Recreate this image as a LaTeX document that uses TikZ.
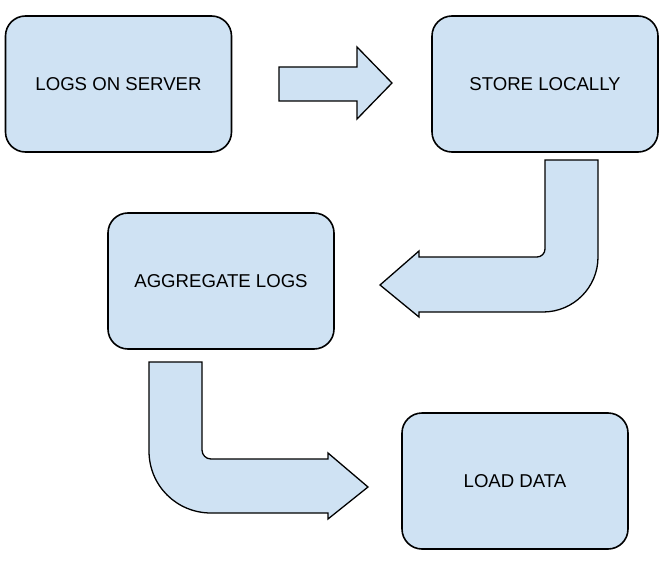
\documentclass[tikz,border=0pt]{standalone}
\usepackage{fontspec}
\setmainfont{Liberation Sans}
\definecolor{boxblue}{HTML}{CFE2F3}
\tikzset{
  box/.style={draw, fill=boxblue, line width=1.6pt, rounded corners=20pt,
    minimum width=226pt, minimum height=136pt, inner sep=0pt,
    font=\fontsize{18.6}{21}\selectfont},
  bigarrow/.style={draw, fill=boxblue, line width=1.3pt, line join=miter}
}
\begin{document}
\begin{tikzpicture}[x=1pt,y=-1pt]
    \useasboundingbox (0,0) rectangle (666,564);
    \node [box] (server) at (118.5,84) {LOGS ON SERVER};
    \node [box] (store) at (545,84) {STORE LOCALLY};
    \node [box] (aggregate) at (221,281) {AGGREGATE LOGS};
    \node [box] (load) at (515,481) {LOAD DATA};
    % server -> store
    \path [bigarrow] (279,67) -- (357,67) -- (357,47) -- (392,83) -- (357,119)
        -- (357,101) -- (279,101) -- cycle;
    % store -> aggregate
    \path [bigarrow] (545,160) -- (598,160) -- (598,257)
        .. controls (598,287.4) and (573.4,312) .. (543,312)
        -- (419,312) -- (419,317) -- (380,285) -- (419,251) -- (419,257) -- (537,257)
        .. controls (541.4,257) and (545,253.4) .. (545,249) -- cycle;
    % aggregate -> load
    \path [bigarrow] (149,362) -- (202,362) -- (202,450)
        .. controls (202,455) and (206,459) .. (211,459)
        -- (328,459) -- (328,453) -- (368,487) -- (328,519) -- (328,513) -- (211,513)
        .. controls (176.8,513) and (149,485.8) .. (149,451) -- cycle;
\end{tikzpicture}
\end{document}
